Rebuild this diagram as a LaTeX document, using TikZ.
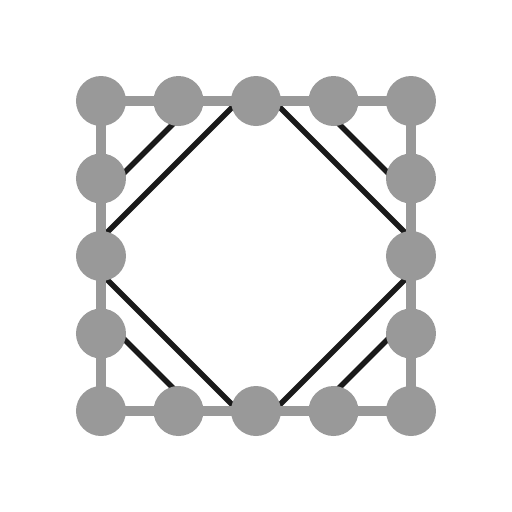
\documentclass[tikz,border=0pt]{standalone}
\usetikzlibrary{backgrounds}
\definecolor{dotgray}{HTML}{999999}
\definecolor{bondblack}{HTML}{1A1A1A}
\begin{document}
\begin{tikzpicture}[
  site/.style={circle, fill=dotgray, minimum size=1cm, inner sep=0pt},
  rim/.style={draw=dotgray, line width=0.2cm},
  bond/.style={draw=bondblack, line width=0.11cm}]
  \useasboundingbox (-5.12,-5.12) rectangle (5.12,5.12);

  % ---- sites: top and bottom rows, left and right columns ----
  \foreach \i in {0,...,4} {
    \node[site] (t\i) at (-3.1+1.55*\i, 3.1) {};
    \node[site] (b\i) at (-3.1+1.55*\i,-3.1) {};
  }
  \foreach \j in {1,2,3} {
    \node[site] (l\j) at (-3.1, 3.1-1.55*\j) {};
    \node[site] (r\j) at ( 3.1, 3.1-1.55*\j) {};
  }

  \begin{scope}[on background layer]
    % ---- long bonds (diamond), pushed towards the corners ----
    \draw[bond] ([xshift=-0.35cm]t2.center) -- ([yshift=0.35cm]l2.center);
    \draw[bond] ([xshift=0.35cm]t2.center) -- ([yshift=0.35cm]r2.center);
    \draw[bond] ([yshift=-0.35cm]l2.center) -- ([xshift=-0.35cm]b2.center);
    \draw[bond] ([yshift=-0.35cm]r2.center) -- ([xshift=0.35cm]b2.center);
    % ---- short corner bonds, pulled inwards ----
    \draw[bond] ([xshift=0.35cm]t1.center) -- ([yshift=-0.35cm]l1.center);
    \draw[bond] ([xshift=-0.35cm]t3.center) -- ([yshift=-0.35cm]r1.center);
    \draw[bond] ([xshift=0.35cm]b1.center) -- ([yshift=0.35cm]l3.center);
    \draw[bond] ([xshift=-0.35cm]b3.center) -- ([yshift=0.35cm]r3.center);
    % ---- square rim ----
    \draw[rim] (t0.center) -- (t4.center) -- (b4.center) -- (b0.center) -- cycle;
  \end{scope}

\end{tikzpicture}
\end{document}
